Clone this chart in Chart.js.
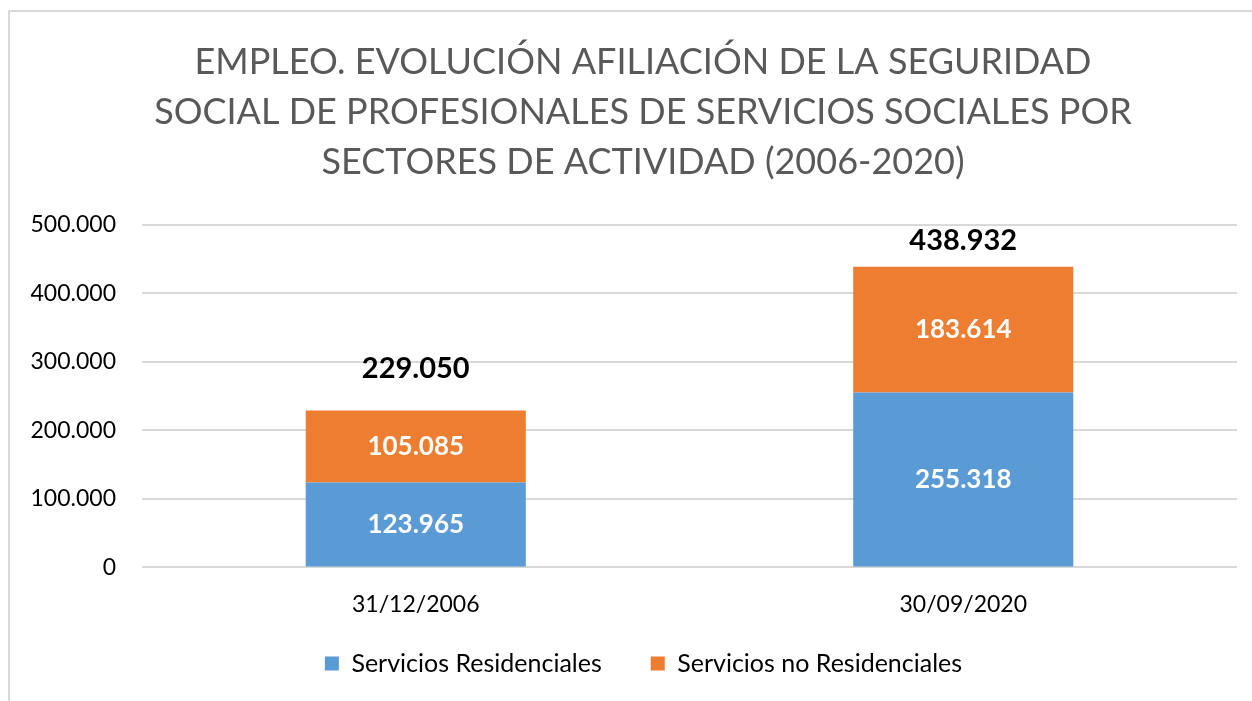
<!DOCTYPE html>
<html><head><meta charset="utf-8">
<script src="https://cdn.jsdelivr.net/npm/chart.js@4.4.0/dist/chart.umd.min.js"></script>
<style>
html,body{margin:0;padding:0;background:#fff;overflow:hidden;}
#wrap{position:relative;width:1252px;height:701px;}
#frame{position:absolute;left:8px;top:10px;width:1400px;height:800px;border:2px solid #d9d9d9;box-sizing:border-box;}
canvas{position:absolute;left:0;top:0;}
</style></head>
<body><div id="wrap"><div id="frame"></div><canvas id="c" width="1252" height="701"></canvas></div>
<script>
const categories = ['31/12/2006', '30/09/2020'];
const residenciales = [123965, 255318];
const noResidenciales = [105085, 183614];
const totals = [229050, 438932];
const yTicks = [0, 100000, 200000, 300000, 400000, 500000];
const titleLines = ['EMPLEO. EVOLUCIÓN AFILIACIÓN DE LA SEGURIDAD', 'SOCIAL DE PROFESIONALES DE SERVICIOS SOCIALES POR', 'SECTORES DE ACTIVIDAD (2006-2020)'];

const fmt = v => v === 0 ? '0' : Math.round(v).toString().replace(/\B(?=(\d{3})+(?!\d))/g, '.');
const FONT = 'Lato, "Open Sans", sans-serif';

const titlePlugin = {
  id: 'ownTitle',
  afterDraw(chart, args, opts) {
    const ctx = chart.ctx;
    ctx.save();
    ctx.textAlign = 'center';
    ctx.textBaseline = 'middle';
    ctx.fillStyle = '#595959';
    ctx.font = '400 36px ' + FONT;
    opts.lines.forEach((t, i) => ctx.fillText(t, opts.cx, opts.y0 + i * opts.step));
    ctx.restore();
  }
};

const legendShift = {
  id: 'legendShift',
  afterUpdate(chart, args, opts) {
    const lg = chart.legend;
    if (!lg) return;
    const h = lg.height;
    lg.left += opts.dx; lg.right += opts.dx;
    lg.top = opts.top; lg.bottom = opts.top + h;
  }
};

const labelPlugin = {
  id: 'labels',
  afterDatasetsDraw(chart, args, opts) {
    const ctx = chart.ctx;
    ctx.save();
    ctx.textAlign = 'center';
    ctx.textBaseline = 'middle';
    chart.data.datasets.forEach((ds, di) => {
      const meta = chart.getDatasetMeta(di);
      meta.data.forEach((bar, i) => {
        const p = bar.getProps(['x', 'y', 'base'], true);
        ctx.fillStyle = '#ffffff';
        ctx.font = 'bold 26px ' + FONT;
        ctx.fillText(fmt(ds.data[i]), p.x, (p.y + p.base) / 2);
      });
    });
    const ys = chart.scales.y;
    const meta = chart.getDatasetMeta(1);
    ctx.fillStyle = '#000000';
    ctx.font = 'bold 29px ' + FONT;
    totals.forEach((t, i) => {
      const x = meta.data[i].x;
      ctx.fillText(fmt(t), x, ys.getPixelForValue(t) - opts.offsets[i]);
    });
    ctx.restore();
  }
};

new Chart(document.getElementById('c'), {
  type: 'bar',
  data: {
    labels: categories,
    datasets: [
      { label: 'Servicios Residenciales', data: residenciales, backgroundColor: '#5B9BD5', categoryPercentage: 1, barPercentage: 0.402 },
      { label: 'Servicios no Residenciales', data: noResidenciales, backgroundColor: '#ED7D31', categoryPercentage: 1, barPercentage: 0.402 }
    ]
  },
  options: {
    responsive: false,
    animation: false,
    devicePixelRatio: 1,
    layout: { padding: { left: 0, right: 15, top: 225, bottom: -16 } },
    scales: {
      x: {
        stacked: true,
        grid: { display: false },
        border: { display: false },
        ticks: { color: '#000', font: { family: FONT, size: 23 }, padding: 15 }
      },
      y: {
        stacked: true,
        min: 0, max: 500000,
        afterBuildTicks: s => { s.ticks = yTicks.map(v => ({ value: v })); },
        afterFit: s => { s.width = 142; },
        grid: { color: '#d9d9d9', lineWidth: 2, drawTicks: false },
        border: { display: false },
        ticks: { color: '#000', font: { family: FONT, size: 23 }, padding: 26, callback: v => fmt(v) }
      }
    },
    plugins: {
      title: { display: false },
      legend: {
        position: 'bottom',
        labels: { color: '#000', font: { family: FONT, size: 25 }, boxWidth: 14, boxHeight: 14, padding: 49 }
      },
      tooltip: { enabled: false },
      labels: { offsets: [42, 26] },
      ownTitle: { lines: titleLines, cx: 643, y0: 62, step: 50 },
      legendShift: { dx: 25, top: 602 }
    }
  },
  plugins: [labelPlugin, titlePlugin, legendShift]
});
</script></body></html>
